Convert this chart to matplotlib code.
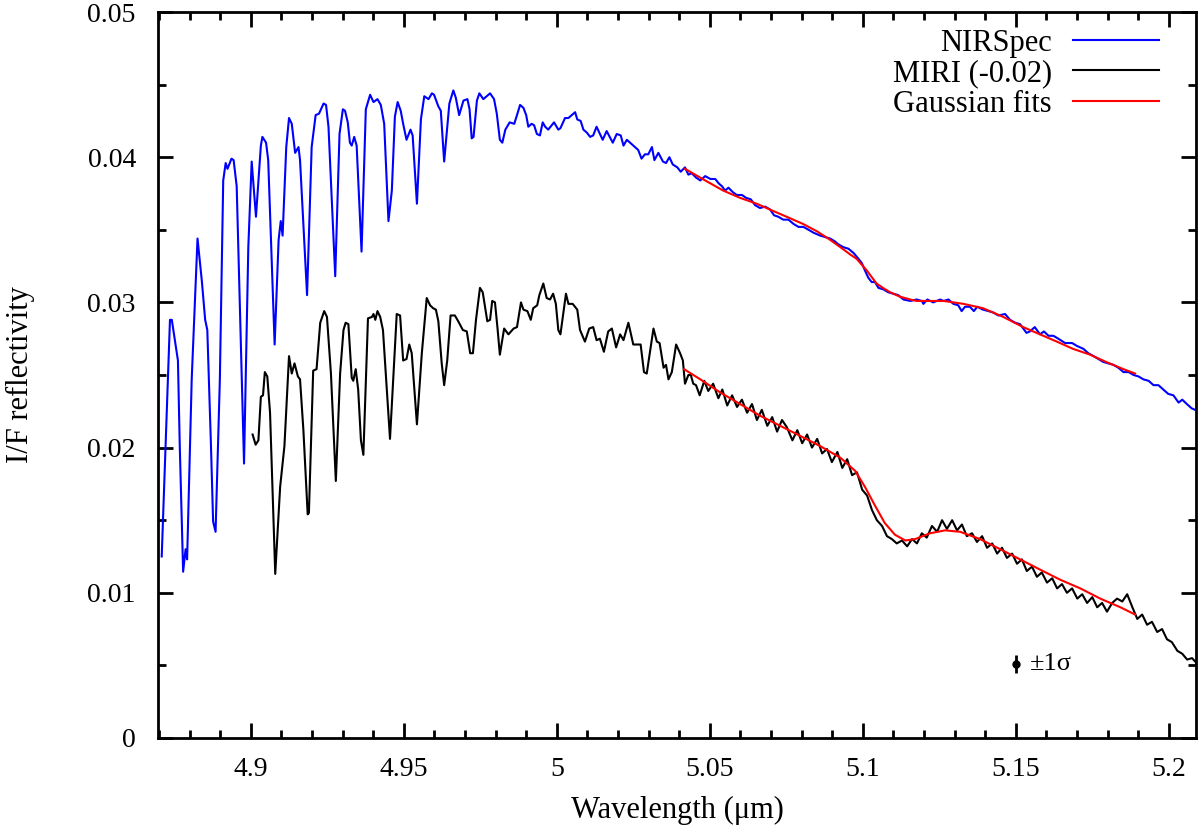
import matplotlib
matplotlib.use("Agg")
import matplotlib.pyplot as plt
from matplotlib.ticker import MultipleLocator, FuncFormatter

plt.rcParams["font.family"] = ["Liberation Serif", "DejaVu Serif"]

# NIRSpec spectrum (wavelength um, I/F)
nir_wl = [4.8709, 4.8736, 4.8742, 4.8752, 4.8762, 4.8768, 4.8779, 4.8787, 4.8792, 4.8807,
          4.8826, 4.8840, 4.8851, 4.8858, 4.8870, 4.8877, 4.8885, 4.8899, 4.8910, 4.8918,
          4.8924, 4.8937, 4.8944, 4.8954, 4.8965, 4.8978, 4.8992, 4.9003, 4.9017, 4.9033,
          4.9038, 4.9050, 4.9057, 4.9078, 4.9091, 4.9098, 4.9104, 4.9116, 4.9125, 4.9134,
          4.9145, 4.9156, 4.9161, 4.9184, 4.9199, 4.9212, 4.9223, 4.9238, 4.9246, 4.9254,
          4.9276, 4.9290, 4.9301, 4.9308, 4.9317, 4.9324, 4.9330, 4.9338, 4.9346, 4.9362,
          4.9376, 4.9390, 4.9401, 4.9414, 4.9425, 4.9436, 4.9450, 4.9461, 4.9471, 4.9480,
          4.9490, 4.9498, 4.9509, 4.9522, 4.9529, 4.9543, 4.9556, 4.9567, 4.9581, 4.9592,
          4.9599, 4.9613, 4.9621, 4.9632, 4.9649, 4.9662, 4.9670, 4.9681, 4.9695, 4.9708,
          4.9715, 4.9722, 4.9728, 4.9739, 4.9747, 4.9760, 4.9771, 4.9782, 4.9795, 4.9804,
          4.9814, 4.9822, 4.9832, 4.9846, 4.9861, 4.9870, 4.9880, 4.9891, 4.9900, 4.9907,
          4.9918, 4.9926, 4.9935, 4.9945, 4.9954, 4.9962, 4.9972, 4.9991, 5.0005, 5.0012,
          5.0027, 5.0038, 5.0060, 5.0067, 5.0078, 5.0087, 5.0098, 5.0109, 5.0119, 5.0130,
          5.0150, 5.0163, 5.0183, 5.0196, 5.0209, 5.0218, 5.0229, 5.0250, 5.0266, 5.0277,
          5.0288, 5.0299, 5.0311, 5.0319, 5.0332, 5.0347, 5.0357, 5.0368, 5.0379, 5.0394,
          5.0405, 5.0419, 5.0430, 5.0441, 5.0455, 5.0469, 5.0485, 5.0502, 5.0518, 5.0529,
          5.0540, 5.0550, 5.0561, 5.0575, 5.0588, 5.0605, 5.0619, 5.0634, 5.0648, 5.0664,
          5.0681, 5.0697, 5.0710, 5.0724, 5.0740, 5.0757, 5.0774, 5.0790, 5.0806, 5.0823,
          5.0839, 5.0861, 5.0877, 5.0893, 5.0909, 5.0920, 5.0937, 5.0953, 5.0970, 5.0986,
          5.0997, 5.1007, 5.1018, 5.1029, 5.1040, 5.1051, 5.1067, 5.1083, 5.1099, 5.1116,
          5.1133, 5.1155, 5.1176, 5.1193, 5.1198, 5.1211, 5.1230, 5.1253, 5.1264, 5.1280,
          5.1296, 5.1312, 5.1323, 5.1334, 5.1350, 5.1363, 5.1374, 5.1393, 5.1411, 5.1427,
          5.1443, 5.1465, 5.1481, 5.1498, 5.1514, 5.1535, 5.1546, 5.1562, 5.1579, 5.1592,
          5.1607, 5.1623, 5.1639, 5.1661, 5.1684, 5.1700, 5.1721, 5.1737, 5.1754, 5.1770,
          5.1786, 5.1803, 5.1819, 5.1835, 5.1852, 5.1869, 5.1885, 5.1901, 5.1917, 5.1934,
          5.1950, 5.1966, 5.1982, 5.1998, 5.2015, 5.2032, 5.2044, 5.2059, 5.2075, 5.2086]
nir_if = [0.0125, 0.0288, 0.0288, 0.0274, 0.0260, 0.0201, 0.01145, 0.0130, 0.0123, 0.0247,
          0.0344, 0.0315, 0.0288, 0.0281, 0.0201, 0.0149, 0.0142, 0.0247, 0.0384, 0.0396,
          0.0392, 0.0399, 0.0398, 0.0380, 0.0293, 0.0189, 0.0338, 0.0397, 0.0359, 0.0408,
          0.0414, 0.0410, 0.0398, 0.0271, 0.0343, 0.0356, 0.0346, 0.0407, 0.0427, 0.0423,
          0.0403, 0.0407, 0.0398, 0.0305, 0.0407, 0.0429, 0.0430, 0.0437, 0.0436, 0.0421,
          0.0318, 0.0416, 0.0433, 0.0432, 0.0424, 0.0410, 0.0408, 0.0414, 0.0408, 0.0335,
          0.0433, 0.0443, 0.0438, 0.0440, 0.0436, 0.0423, 0.0356, 0.0377, 0.0428, 0.0438,
          0.0432, 0.0423, 0.0412, 0.0419, 0.0415, 0.0368, 0.0426, 0.0442, 0.0440, 0.0444,
          0.0443, 0.0435, 0.0432, 0.0397, 0.0437, 0.0446, 0.0441, 0.0429, 0.0439, 0.0440,
          0.0433, 0.0413, 0.0414, 0.0439, 0.0444, 0.0440, 0.0442, 0.0444, 0.0440, 0.0430,
          0.0412, 0.0410, 0.0419, 0.0424, 0.0423, 0.0429, 0.0436, 0.0434, 0.0429, 0.0421,
          0.0423, 0.0422, 0.0416, 0.0415, 0.0424, 0.0421, 0.0419, 0.0424, 0.0419, 0.0420,
          0.0427, 0.0427, 0.0431, 0.0426, 0.0425, 0.0419, 0.0417, 0.0414, 0.0415, 0.0421,
          0.0412, 0.0418, 0.0410, 0.0416, 0.0415, 0.0408, 0.0412, 0.0408, 0.0405, 0.0399,
          0.0402, 0.0402, 0.0407, 0.0398, 0.0403, 0.0397, 0.0396, 0.0400, 0.0395, 0.0393,
          0.0390, 0.0393, 0.0388, 0.0389, 0.0386, 0.0384, 0.0387, 0.0385, 0.0385, 0.0382,
          0.0380, 0.0377, 0.0379, 0.0376, 0.0374, 0.0374, 0.0372, 0.0371, 0.0367, 0.0365,
          0.0366, 0.0364, 0.0360, 0.0359, 0.0357, 0.0357, 0.0354, 0.0352, 0.0352, 0.0350,
          0.0348, 0.0346, 0.0345, 0.0344, 0.0342, 0.0340, 0.0338, 0.0337, 0.0334, 0.0330,
          0.0327, 0.0322, 0.0317, 0.0314, 0.0314, 0.0310, 0.0309, 0.0307, 0.0306, 0.0305,
          0.0302, 0.0301, 0.0302, 0.0301, 0.0299, 0.0302, 0.0300, 0.0302, 0.0301, 0.0302,
          0.0299, 0.0298, 0.0294, 0.0297, 0.0297, 0.0294, 0.0297, 0.0295, 0.0294, 0.0293,
          0.0291, 0.0292, 0.0288, 0.0286, 0.0285, 0.0279, 0.0280, 0.0283, 0.0278, 0.0280,
          0.0277, 0.0277, 0.0275, 0.0272, 0.0272, 0.0270, 0.0268, 0.0265, 0.0263, 0.0261,
          0.0259, 0.0258, 0.0257, 0.0255, 0.0252, 0.0252, 0.0250, 0.0249, 0.0247, 0.0246,
          0.0243, 0.0243, 0.0240, 0.0237, 0.0236, 0.0231, 0.0233, 0.0230, 0.0227, 0.0226]

# MIRI spectrum, already shifted by -0.02
miri_wl = [4.9006, 4.9016, 4.9025, 4.9033, 4.9040, 4.9046, 4.9054, 4.9063, 4.9080, 4.9096,
           4.9110, 4.9125, 4.9134, 4.9143, 4.9154, 4.9161, 4.9172, 4.9186, 4.9190, 4.9204,
           4.9215, 4.9227, 4.9240, 4.9249, 4.9262, 4.9278, 4.9292, 4.9303, 4.9310, 4.9319,
           4.9330, 4.9335, 4.9343, 4.9351, 4.9360, 4.9368, 4.9383, 4.9396, 4.9401, 4.9407,
           4.9414, 4.9423, 4.9432, 4.9439, 4.9455, 4.9477, 4.9488, 4.9498, 4.9509, 4.9518,
           4.9526, 4.9543, 4.9559, 4.9575, 4.9586, 4.9596, 4.9605, 4.9613, 4.9624, 4.9632,
           4.9642, 4.9653, 4.9667, 4.9678, 4.9693, 4.9706, 4.9717, 4.9726, 4.9736, 4.9749,
           4.9758, 4.9773, 4.9782, 4.9789, 4.9798, 4.9806, 4.9814, 4.9828, 4.9842, 4.9859,
           4.9870, 4.9883, 4.9891, 4.9904, 4.9915, 4.9923, 4.9936, 4.9943, 4.9956, 4.9967,
           4.9978, 4.9988, 4.9997, 5.0005, 5.0012, 5.0030, 5.0038, 5.0052, 5.0067, 5.0076,
           5.0092, 5.0106, 5.0119, 5.0130, 5.0141, 5.0154, 5.0168, 5.0180, 5.0194, 5.0207,
           5.0218, 5.0234, 5.0250, 5.0266, 5.0274, 5.0285, 5.0294, 5.0316, 5.0327, 5.0336,
           5.0349, 5.0357, 5.0365, 5.0376, 5.0390, 5.0403, 5.0412, 5.0419, 5.0430, 5.0438,
           5.0446, 5.0455, 5.0467, 5.0482, 5.0495, 5.0511, 5.0528, 5.0541, 5.0557, 5.0573,
           5.0589, 5.0605, 5.0622, 5.0638, 5.0654, 5.0670, 5.0688, 5.0704, 5.0720, 5.0736,
           5.0752, 5.0770, 5.0786, 5.0802, 5.0818, 5.0834, 5.0851, 5.0867, 5.0883, 5.0899,
           5.0917, 5.0933, 5.0949, 5.0965, 5.0981, 5.0998, 5.1014, 5.1030, 5.1046, 5.1063,
           5.1079, 5.1095, 5.1111, 5.1128, 5.1145, 5.1161, 5.1177, 5.1193, 5.1209, 5.1226,
           5.1243, 5.1259, 5.1275, 5.1292, 5.1308, 5.1324, 5.1340, 5.1357, 5.1373, 5.1390,
           5.1406, 5.1423, 5.1439, 5.1455, 5.1471, 5.1488, 5.1504, 5.1520, 5.1536, 5.1553,
           5.1569, 5.1585, 5.1602, 5.1619, 5.1635, 5.1651, 5.1667, 5.1684, 5.1701, 5.1717,
           5.1733, 5.1750, 5.1766, 5.1782, 5.1798, 5.1815, 5.1831, 5.1848, 5.1864, 5.1881,
           5.1897, 5.1913, 5.1929, 5.1945, 5.1962, 5.1978, 5.1994, 5.2010, 5.2028, 5.2044,
           5.2060, 5.2076, 5.2089]
miri_if = [0.0209, 0.0202, 0.0205, 0.0235, 0.0236, 0.0252, 0.0249, 0.0224, 0.0113, 0.0173,
           0.0201, 0.0263, 0.0251, 0.0258, 0.0249, 0.0247, 0.0212, 0.0154, 0.0155, 0.0253,
           0.0254, 0.0286, 0.0294, 0.0290, 0.0251, 0.0177, 0.0251, 0.0281, 0.0286, 0.0285,
           0.0248, 0.0246, 0.0254, 0.0240, 0.0205, 0.0195, 0.0289, 0.0290, 0.0292, 0.0288,
           0.0294, 0.0290, 0.0281, 0.0258, 0.0206, 0.0292, 0.0291, 0.0260, 0.0261, 0.0271,
           0.0265, 0.0216, 0.0265, 0.0303, 0.0298, 0.0296, 0.0295, 0.0287, 0.0258, 0.0243,
           0.0260, 0.0291, 0.0291, 0.0287, 0.0281, 0.0280, 0.0265, 0.0265, 0.0288, 0.0310,
           0.0307, 0.0287, 0.0288, 0.0301, 0.0300, 0.0283, 0.0264, 0.0282, 0.0278, 0.0282,
           0.0283, 0.0300, 0.0295, 0.0294, 0.0288, 0.0296, 0.0298, 0.0305, 0.0313, 0.0303,
           0.0302, 0.0306, 0.0299, 0.0281, 0.0278, 0.0306, 0.0299, 0.0299, 0.0295, 0.0281,
           0.0273, 0.0282, 0.0283, 0.0274, 0.0275, 0.0266, 0.0280, 0.0282, 0.0269, 0.0278,
           0.0274, 0.0286, 0.0271, 0.0271, 0.0271, 0.0252, 0.0251, 0.0282, 0.0273, 0.0272,
           0.0255, 0.0257, 0.0247, 0.0252, 0.0271, 0.0265, 0.0260, 0.0244, 0.0250, 0.0250,
           0.0244, 0.0243, 0.0236, 0.0246, 0.0239, 0.0244, 0.0234, 0.0240, 0.0229, 0.0236,
           0.0228, 0.0233, 0.0224, 0.0230, 0.0219, 0.0226, 0.0215, 0.0221, 0.0211, 0.0219,
           0.0214, 0.0205, 0.0212, 0.0203, 0.0209, 0.0200, 0.0206, 0.0196, 0.0199, 0.0190,
           0.0197, 0.0186, 0.0192, 0.0181, 0.0183, 0.0171, 0.0167, 0.0157, 0.0150, 0.0146,
           0.0139, 0.0137, 0.0134, 0.0136, 0.0132, 0.0137, 0.0134, 0.0141, 0.0138, 0.0146,
           0.0142, 0.0150, 0.0144, 0.0150, 0.0143, 0.0147, 0.0139, 0.0141, 0.0135, 0.0139,
           0.0131, 0.0134, 0.0127, 0.0131, 0.0124, 0.0127, 0.0120, 0.0123, 0.0115, 0.0118,
           0.0111, 0.0114, 0.0107, 0.0110, 0.0103, 0.0106, 0.0100, 0.0103, 0.0096, 0.0099,
           0.0093, 0.0097, 0.0090, 0.0093, 0.0087, 0.0093, 0.0096, 0.0094, 0.0099, 0.0090,
           0.0082, 0.0085, 0.0078, 0.0080, 0.0073, 0.0075, 0.0068, 0.0066, 0.0060, 0.0058,
           0.0054, 0.0055, 0.0052]

# Gaussian fits
fit_nir_wl = [5.0419, 5.0485, 5.0544, 5.0599, 5.0653, 5.0707, 5.0762, 5.0805, 5.0850, 5.0887,
              5.0927, 5.0959, 5.0980, 5.1013, 5.1045, 5.1066, 5.1089, 5.1121, 5.1155, 5.1176,
              5.1220, 5.1264, 5.1329, 5.1393, 5.1459, 5.1524, 5.1579, 5.1634, 5.1687, 5.1743,
              5.1795, 5.1852, 5.1890]
fit_nir_if = [0.0392, 0.0384, 0.0377, 0.0372, 0.0368, 0.0363, 0.0358, 0.0354, 0.0349, 0.0344,
              0.0338, 0.0333, 0.0330, 0.0322, 0.0313, 0.0310, 0.0307, 0.0304, 0.0302, 0.0301,
              0.0301, 0.0301, 0.0299, 0.0296, 0.0290, 0.0283, 0.0278, 0.0273, 0.0268, 0.0264,
              0.0259, 0.0254, 0.0251]
fit_miri_wl = [5.0416, 5.0469, 5.0534, 5.0599, 5.0664, 5.0730, 5.0796, 5.0861, 5.0927, 5.0975,
               5.1007, 5.1040, 5.1072, 5.1105, 5.1139, 5.1171, 5.1220, 5.1269, 5.1318, 5.1383,
               5.1449, 5.1514, 5.1579, 5.1645, 5.1711, 5.1776, 5.1842, 5.1890]
fit_miri_if = [0.0254, 0.0247, 0.0238, 0.0230, 0.0222, 0.0215, 0.0208, 0.0201, 0.0193, 0.0184,
               0.0173, 0.0160, 0.0148, 0.0140, 0.0136, 0.0137, 0.0141, 0.0143, 0.0142, 0.0137,
               0.0130, 0.0123, 0.0116, 0.0109, 0.0103, 0.0096, 0.0090, 0.0085]

# representative error bar
err_wl, err_if, err_sig = 5.15, 0.0051, 0.0006

fig = plt.figure(figsize=(12, 8.35), dpi=100)
ax = fig.add_axes([0.1317, 0.1162, 0.865, 0.8694])

ax.plot(nir_wl, nir_if, color="#0000ff", lw=1.5, label="NIRSpec")
ax.plot(miri_wl, miri_if, color="black", lw=1.5, label="MIRI (-0.02)")
ax.plot(fit_nir_wl, fit_nir_if, color="#ff0000", lw=1.5, label="Gaussian fits")
ax.plot(fit_miri_wl, fit_miri_if, color="#ff0000", lw=1.5)

ax.errorbar([err_wl], [err_if], yerr=[err_sig], fmt="o", color="black", ms=5, lw=2, capsize=0)
ax.text(err_wl + 0.0045, err_if, "±1σ", fontsize=19, va="center", ha="left")

ax.set_xlim(4.8697, 5.2089)
ax.set_ylim(0, 0.05)
ax.xaxis.set_major_locator(MultipleLocator(0.05))
ax.xaxis.set_minor_locator(MultipleLocator(0.01))
ax.yaxis.set_major_locator(MultipleLocator(0.01))
ax.yaxis.set_minor_locator(MultipleLocator(0.005))
fmt = FuncFormatter(lambda v, p: f"{v:.4g}" if abs(v) > 1e-9 else "0")
ax.xaxis.set_major_formatter(fmt)
ax.yaxis.set_major_formatter(fmt)
ax.tick_params(which="both", direction="in", top=True, right=True, width=2, labelsize=20)
ax.tick_params(axis="x", pad=14)
ax.tick_params(axis="y", pad=16)
ax.tick_params(which="major", length=11)
ax.tick_params(which="minor", length=6)
for s in ax.spines.values():
    s.set_linewidth(2)

ax.set_xlabel("Wavelength (μm)", fontsize=22, labelpad=10)
ax.set_ylabel("I/F reflectivity", fontsize=22, labelpad=38)

leg = ax.legend(loc="upper right", bbox_to_anchor=(0.976, 0.994), borderaxespad=0, frameon=False,
                markerfirst=False, fontsize=22, handlelength=2.8, handletextpad=0.7,
                labelspacing=0.05)

fig.savefig("out.png", dpi=100)
